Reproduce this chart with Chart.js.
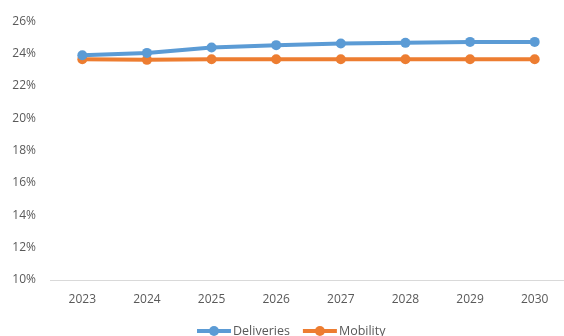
<!DOCTYPE html>
<html lang="en">
<head>
    <meta charset="UTF-8">
    <title>Deliveries vs Mobility</title>
    <script src="https://cdn.jsdelivr.net/npm/chart.js"></script>
    <style>
        body { margin: 0; background: #fff; overflow: hidden; }
        #wrap { width: 572px; height: 336px; position: relative; }
    </style>
</head>
<body>
    <div id="wrap"><canvas id="lineChart"></canvas></div>

    <script>
        const years = ["2023", "2024", "2025", "2026", "2027", "2028", "2029", "2030"];
        const deliveries = [23.9, 24.04, 24.37, 24.52, 24.62, 24.66, 24.72, 24.72];
        const mobility = [23.65, 23.61, 23.65, 23.65, 23.65, 23.65, 23.65, 23.65];

        const textColor = "#595959";
        const font = { family: "'Open Sans', sans-serif", size: 12 };

        // legend drawn by hand: line + dot + label, like the office-style one
        const lineLegend = {
            id: "lineLegend",
            afterDraw(chart) {
                const ctx = chart.ctx;
                let x = 197;
                const y = 331;
                ctx.save();
                ctx.font = `12.5px ${font.family}`;
                ctx.textBaseline = "middle";
                chart.data.datasets.forEach(ds => {
                    ctx.strokeStyle = ds.borderColor;
                    ctx.lineWidth = 4;
                    ctx.beginPath();
                    ctx.moveTo(x, y);
                    ctx.lineTo(x + 34, y);
                    ctx.stroke();
                    ctx.fillStyle = ds.borderColor;
                    ctx.beginPath();
                    ctx.arc(x + 17, y, 5, 0, Math.PI * 2);
                    ctx.fill();
                    ctx.fillStyle = textColor;
                    ctx.fillText(ds.label, x + 36, y);
                    x += 36 + ctx.measureText(ds.label).width + 13;
                });
                ctx.restore();
            }
        };

        const ctx = document.getElementById("lineChart").getContext("2d");
        new Chart(ctx, {
            type: "line",
            data: {
                labels: years,
                datasets: [
                    {
                        label: "Deliveries",
                        data: deliveries,
                        borderColor: "#5B9BD5",
                        backgroundColor: "#5B9BD5",
                        borderWidth: 4,
                        pointRadius: 5,
                        pointBorderWidth: 0,
                        tension: 0
                    },
                    {
                        label: "Mobility",
                        data: mobility,
                        borderColor: "#ED7D31",
                        backgroundColor: "#ED7D31",
                        borderWidth: 4,
                        pointRadius: 5,
                        pointBorderWidth: 0,
                        tension: 0
                    }
                ]
            },
            options: {
                responsive: true,
                maintainAspectRatio: false,
                animation: false,
                layout: { padding: { left: 0, right: 0, top: 11, bottom: 0 } },
                plugins: {
                    legend: { display: false },
                    tooltip: { enabled: false }
                },
                scales: {
                    x: {
                        offset: true,
                        grid: { display: false, drawTicks: false },
                        border: { display: true, color: "#D9D9D9", width: 1 },
                        ticks: { color: textColor, font: font, padding: 12, maxRotation: 0 },
                        afterFit: s => { s.height = 56; }
                    },
                    y: {
                        min: 10,
                        max: 26,
                        grid: { display: false, drawTicks: false },
                        border: { display: false },
                        ticks: {
                            stepSize: 2,
                            color: textColor,
                            font: font,
                            padding: 14,
                            callback: v => `${v}%`
                        },
                        afterFit: s => { s.width = 50; }
                    }
                }
            },
            plugins: [lineLegend]
        });
    </script>
</body>
</html>
